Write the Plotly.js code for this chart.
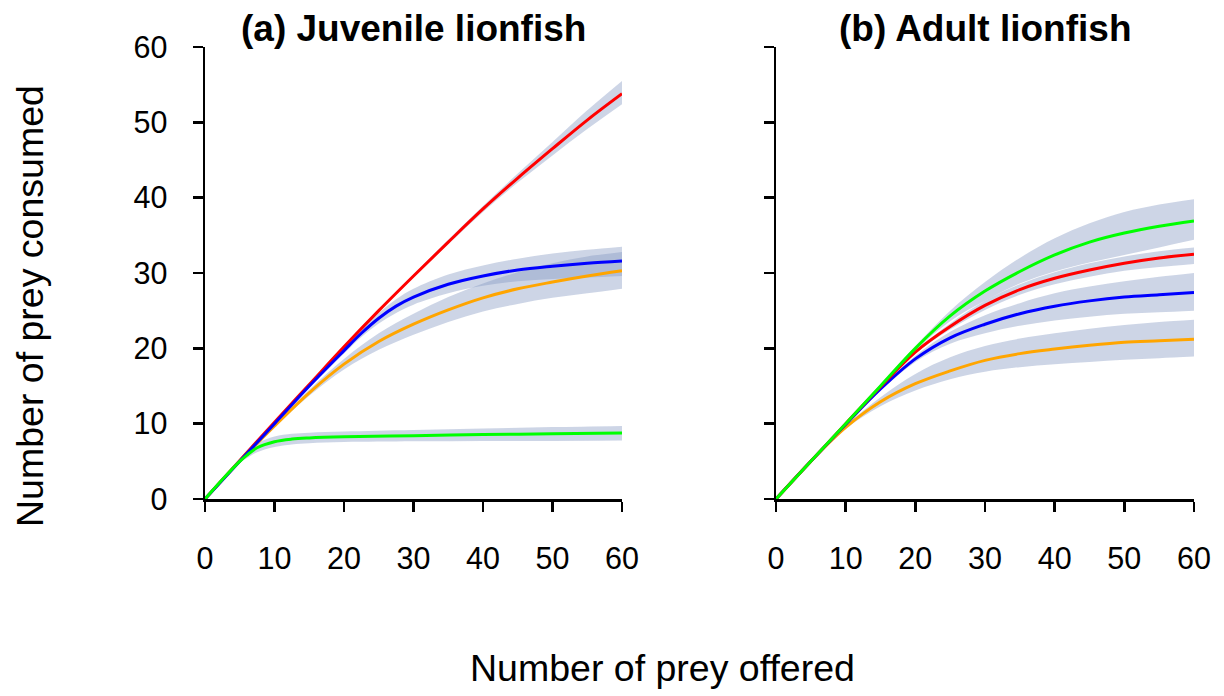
<!DOCTYPE html>
<html>
<head>
<meta charset="utf-8">
<script src="https://cdn.plot.ly/plotly-3.0.1.min.js"></script>
<style>html,body{margin:0;padding:0;background:#fff;}#chart{width:1224px;height:696px;}</style>
</head>
<body>
<div id="chart"></div>
<script>
// ---------- Data ----------
const xTicks = [0, 10, 20, 30, 40, 50, 60];
const yTicks = [0, 10, 20, 30, 40, 50, 60];

// Panel (a) Juvenile lionfish
const xJ = [0, 5, 10, 15, 20, 25, 30, 35, 40, 45, 50, 55, 60];
const juvRed      = [0, 5.1, 10.2, 15.2, 20.2, 25.0, 29.6, 34.1, 38.5, 42.6, 46.5, 50.3, 53.8];
const juvRedLo    = [0, 5.0, 10.1, 15.1, 20.1, 24.9, 29.4, 33.8, 38.1, 42.0, 45.6, 49.1, 52.4];
const juvRedHi    = [0, 5.2, 10.3, 15.3, 20.3, 25.1, 29.8, 34.4, 38.9, 43.2, 47.4, 51.6, 55.5];
const xJB = [0, 5, 10, 15, 20, 22.5, 25, 27.5, 30, 35, 40, 45, 50, 55, 60];
const juvBlue     = [0, 5.0, 10.0, 15.0, 19.7, 22.0, 24.0, 25.6, 26.8, 28.5, 29.6, 30.4, 30.9, 31.3, 31.6];
const juvBlueLo   = [0, 4.9, 9.8, 14.7, 19.3, 21.5, 23.3, 24.7, 25.8, 27.3, 28.3, 28.9, 29.2, 29.4, 29.6];
const juvBlueHi   = [0, 5.1, 10.2, 15.3, 20.1, 22.5, 24.7, 26.5, 27.9, 29.8, 31.0, 31.9, 32.6, 33.1, 33.5];
const juvOrange   = [0, 5.0, 9.7, 14.1, 17.9, 20.9, 23.2, 25.1, 26.7, 27.9, 28.8, 29.6, 30.3];
const juvOrangeLo = [0, 4.9, 9.5, 13.7, 17.2, 19.8, 21.8, 23.5, 24.9, 25.9, 26.7, 27.3, 27.9];
const juvOrangeHi = [0, 5.1, 9.9, 14.5, 18.6, 22.0, 24.6, 26.8, 28.6, 30.1, 31.3, 32.2, 32.8];
const xJG = [0, 2.5, 5, 6, 7.5, 10, 12.5, 15, 20, 30, 40, 50, 60];
const juvGreen    = [0, 2.6, 5.0, 5.8, 6.8, 7.6, 7.95, 8.1, 8.25, 8.4, 8.55, 8.65, 8.75];
const juvGreenLo  = [0, 2.55, 4.8, 5.4, 6.2, 6.9, 7.25, 7.4, 7.55, 7.65, 7.7, 7.7, 7.75];
const juvGreenHi  = [0, 2.65, 5.2, 6.2, 7.4, 8.3, 8.65, 8.8, 8.95, 9.15, 9.35, 9.55, 9.7];

// Panel (b) Adult lionfish
const xA = [0, 5, 10, 15, 20, 25, 30, 35, 40, 45, 50, 55, 60];
const adGreen     = [0, 5.0, 10.0, 15.0, 20.0, 24.3, 27.6, 30.2, 32.4, 34.1, 35.3, 36.2, 36.9];
const adGreenLo   = [0, 4.9, 9.9, 14.8, 19.7, 23.6, 26.3, 28.6, 30.2, 31.4, 32.4, 33.4, 34.4];
const adGreenHi   = [0, 5.1, 10.1, 15.2, 20.3, 25.0, 28.8, 32.0, 34.6, 36.6, 38.1, 39.1, 39.8];
const adRed       = [0, 5.0, 10.0, 14.9, 19.5, 22.9, 25.7, 27.8, 29.3, 30.4, 31.3, 32.0, 32.5];
const adRedLo     = [0, 4.9, 9.9, 14.8, 19.3, 22.5, 25.1, 27.1, 28.5, 29.5, 30.3, 30.8, 31.2];
const adRedHi     = [0, 5.1, 10.1, 15.0, 19.7, 23.3, 26.3, 28.5, 30.1, 31.3, 32.2, 32.9, 33.4];
const adBlue      = [0, 5.0, 9.9, 14.6, 18.6, 21.4, 23.2, 24.6, 25.6, 26.3, 26.8, 27.1, 27.4];
const adBlueLo    = [0, 4.9, 9.8, 14.4, 18.2, 20.6, 22.0, 23.0, 23.7, 24.2, 24.6, 24.8, 25.0];
const adBlueHi    = [0, 5.1, 10.0, 14.8, 19.0, 22.2, 24.4, 26.0, 27.3, 28.2, 28.9, 29.5, 30.0];
const adOrange    = [0, 5.0, 9.5, 12.9, 15.3, 17.0, 18.4, 19.3, 19.9, 20.4, 20.8, 21.0, 21.2];
const adOrangeLo  = [0, 4.9, 9.3, 12.3, 14.4, 15.9, 16.9, 17.5, 17.9, 18.2, 18.5, 18.7, 18.9];
const adOrangeHi  = [0, 5.1, 9.7, 13.5, 16.6, 18.8, 20.3, 21.3, 22.0, 22.6, 23.1, 23.5, 23.8];

// ---------- Styling ----------
const FONT = '"Liberation Sans", Arial, sans-serif';
const BAND = 'rgba(130,150,193,0.4)';
const C = {red: '#ff0000', blue: '#0000ff', orange: '#ffa500', green: '#00ff00'};

function band(x, lo, hi, xa, ya) {
  return [
    {x: x, y: lo, xaxis: xa, yaxis: ya, mode: 'lines', line: {width: 0, shape: 'spline', smoothing: 1}, hoverinfo: 'skip', showlegend: false},
    {x: x, y: hi, xaxis: xa, yaxis: ya, mode: 'lines', line: {width: 0, shape: 'spline', smoothing: 1}, fill: 'tonexty', fillcolor: BAND, hoverinfo: 'skip', showlegend: false}
  ];
}
function line(x, y, color, xa, ya) {
  return {x: x, y: y, xaxis: xa, yaxis: ya, mode: 'lines', line: {color: color, width: 3, shape: 'spline', smoothing: 1}, showlegend: false};
}

const traces = [].concat(
  band(xJ, juvRedLo, juvRedHi, 'x', 'y'),
  band(xJB, juvBlueLo, juvBlueHi, 'x', 'y'),
  band(xJ, juvOrangeLo, juvOrangeHi, 'x', 'y'),
  band(xJG, juvGreenLo, juvGreenHi, 'x', 'y'),
  band(xA, adGreenLo, adGreenHi, 'x2', 'y2'),
  band(xA, adRedLo, adRedHi, 'x2', 'y2'),
  band(xA, adBlueLo, adBlueHi, 'x2', 'y2'),
  band(xA, adOrangeLo, adOrangeHi, 'x2', 'y2'),
  [
    line(xJ, juvRed, C.red, 'x', 'y'),
    line(xJ, juvOrange, C.orange, 'x', 'y'),
    line(xJB, juvBlue, C.blue, 'x', 'y'),
    line(xJG, juvGreen, C.green, 'x', 'y'),
    line(xA, adOrange, C.orange, 'x2', 'y2'),
    line(xA, adBlue, C.blue, 'x2', 'y2'),
    line(xA, adRed, C.red, 'x2', 'y2'),
    line(xA, adGreen, C.green, 'x2', 'y2')
  ]
);

const W = 1224, H = 696;
function px(v) { return v / W; }
function py(v) { return 1 - v / H; }

const axBase = {
  range: [0, 60], showgrid: false, zeroline: false, showline: true,
  linecolor: '#000', linewidth: 2.5, ticks: 'outside', ticklen: 10, tickwidth: 2.5, tickcolor: '#000',
  tickmode: 'array', tickfont: {family: FONT, size: 30.5, color: '#000'}, fixedrange: true
};

const layout = {
  width: W, height: H,
  margin: {l: 0, r: 0, t: 0, b: 0},
  paper_bgcolor: '#fff', plot_bgcolor: '#fff',
  showlegend: false,
  xaxis: Object.assign({}, axBase, {domain: [px(205), px(622)], anchor: 'y', tickvals: xTicks, ticktext: xTicks.map(String), ticklabelstandoff: 21}),
  yaxis: Object.assign({}, axBase, {domain: [py(499), py(47)], anchor: 'x', tickvals: yTicks, ticktext: yTicks.map(String), ticklabelstandoff: 19}),
  xaxis2: Object.assign({}, axBase, {domain: [px(776), px(1194)], anchor: 'y2', tickvals: xTicks, ticktext: xTicks.map(String), ticklabelstandoff: 21}),
  yaxis2: Object.assign({}, axBase, {domain: [py(499), py(47)], anchor: 'x2', tickvals: yTicks, showticklabels: false}),
  annotations: [
    {text: '<b>(a) Juvenile lionfish</b>', xref: 'paper', yref: 'paper', x: px(413), y: py(28), xanchor: 'center', yanchor: 'middle', showarrow: false, font: {family: FONT, size: 37, color: '#000'}},
    {text: '<b>(b) Adult lionfish</b>', xref: 'paper', yref: 'paper', x: px(985), y: py(28), xanchor: 'center', yanchor: 'middle', showarrow: false, font: {family: FONT, size: 37, color: '#000'}},
    {text: 'Number of prey offered', xref: 'paper', yref: 'paper', x: px(662), y: py(668), xanchor: 'center', yanchor: 'middle', showarrow: false, font: {family: FONT, size: 37.5, color: '#000'}},
    {text: 'Number of prey consumed', xref: 'paper', yref: 'paper', x: px(30), y: py(306), xanchor: 'center', yanchor: 'middle', textangle: -90, showarrow: false, font: {family: FONT, size: 37.5, color: '#000'}}
  ]
};

Plotly.newPlot('chart', traces, layout, {staticPlot: true, displayModeBar: false});
</script>
</body>
</html>
